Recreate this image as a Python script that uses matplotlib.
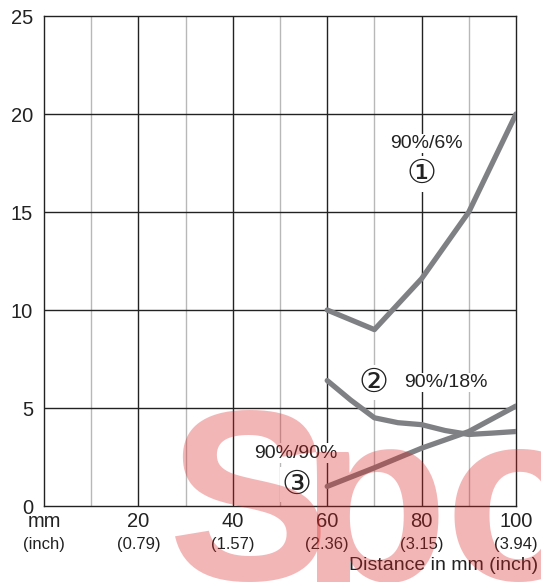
import matplotlib
matplotlib.use('Agg')
import matplotlib.pyplot as plt

# distance in mm and the reading for each target pair
dist1 = [60, 70, 80, 90, 100]
curve1 = [10.0, 9.0, 11.6, 15.0, 20.0]          # 90%/6%

dist2 = [60, 65, 70, 75, 80, 85, 90, 95, 100]
curve2 = [6.4, 5.4, 4.5, 4.25, 4.15, 3.85, 3.65, 3.72, 3.8]   # 90%/18%

dist3 = [60, 70, 80, 90, 100]
curve3 = [1.0, 1.95, 2.95, 3.8, 5.1]             # 90%/90%

xticks = [0, 20, 40, 60, 80, 100]
xlabels_mm = ['mm', '20', '40', '60', '80', '100']
xlabels_inch = ['(inch)', '(0.79)', '(1.57)', '(2.36)', '(3.15)', '(3.94)']
yticks = [0, 5, 10, 15, 20, 25]

plt.rcParams['font.family'] = ['Liberation Sans', 'DejaVu Sans']

fig = plt.figure(figsize=(5.41, 5.82), dpi=100)
ax = fig.add_axes([44 / 541, 1 - 506 / 582, 472 / 541, 490 / 582])

ax.set_xlim(0, 100)
ax.set_ylim(0, 25)

# grid: light lines at odd tens, dark ones at even tens and every 5 on y
for x in range(10, 100, 20):
    ax.axvline(x, color='#b8b8b8', lw=1.0, zorder=1)
for x in range(20, 100, 20):
    ax.axvline(x, color='#222222', lw=1.0, zorder=1)
for y in range(5, 25, 5):
    ax.axhline(y, color='#222222', lw=1.0, zorder=1)
for s in ax.spines.values():
    s.set_color('#222222')
    s.set_linewidth(1.0)

line_kw = dict(color='#7f8083', lw=3.8, solid_capstyle='round', solid_joinstyle='round', zorder=3)
ax.plot(dist1, curve1, **line_kw)
ax.plot(dist2, curve2, **line_kw)
ax.plot(dist3, curve3, **line_kw)

ax.set_xticks(xticks)
ax.set_xticklabels(xlabels_mm, fontsize=14.5, color='#222222')
ax.set_yticks(yticks)
ax.set_yticklabels([str(v) for v in yticks], fontsize=14.5, color='#222222')
ax.tick_params(length=0, pad=4)
ax.tick_params(axis='y', pad=8)

for x, lab in zip(xticks, xlabels_inch):
    ax.annotate(lab, xy=(x, 0), xycoords='data', xytext=(0, -28), textcoords='offset points',
                ha='center', va='center', fontsize=12, color='#222222')

ax.annotate('Distance in mm (inch)', xy=(1.0, 0), xycoords='axes fraction', xytext=(16, -43),
            textcoords='offset points', ha='right', va='center', fontsize=14, color='#222222')

box = dict(facecolor='white', edgecolor='none', pad=1)
circ = ['DejaVu Sans', 'Noto Sans CJK JP']
ax.text(81, 18.5, '90%/6%', ha='center', va='center', fontsize=14, color='#222222', bbox=box, zorder=4)
ax.text(80, 16.95, '\u2460', ha='center', va='center', fontsize=24, family=circ, color='#222222', bbox=box, zorder=4)
ax.text(69.9, 6.3, '\u2461', ha='center', va='center', fontsize=24, family=circ, color='#222222', bbox=box, zorder=4)
ax.text(85.2, 6.3, '90%/18%', ha='center', va='center', fontsize=14, color='#222222', bbox=box, zorder=4)
ax.text(53.4, 2.7, '90%/90%', ha='center', va='center', fontsize=14, color='#222222', bbox=box, zorder=4)
ax.text(53.4, 1.1, '\u2462', ha='center', va='center', fontsize=24, family=circ, color='#222222', bbox=box, zorder=4)

# watermark, one letter at a time
wm_family = ['Liberation Sans Narrow', 'Liberation Sans']
for letter, left in [('S', 168), ('p', 300), ('o', 444)]:
    fig.text(left / 541, 1 - 580 / 582, letter, fontsize=175, fontweight='bold', color='#dd2222',
             alpha=0.33, ha='left', va='baseline', family=wm_family, zorder=10)

fig.savefig('out.png', dpi=100)
